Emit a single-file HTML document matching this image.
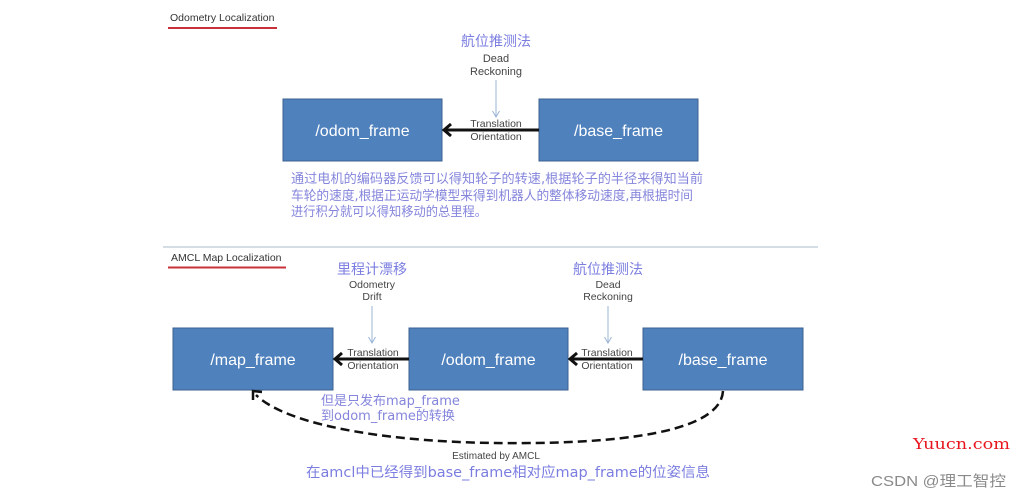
<!DOCTYPE html>
<html><head><meta charset="utf-8">
<style>
html,body{margin:0;padding:0;background:#fff;}
svg{display:block;}
.en{font-family:"Liberation Sans",Arial,sans-serif;}
.cn{font-family:"DejaVu Sans","Noto Sans CJK SC",sans-serif;}
</style></head>
<body>
<svg width="1022" height="497" viewBox="0 0 1022 497" xmlns="http://www.w3.org/2000/svg">
<rect width="1022" height="497" fill="#fff"/>

<!-- Top section -->
<text x="170" y="21" class="en" font-size="10.5" fill="#333">Odometry Localization</text>
<line x1="168" y1="28" x2="277" y2="28" stroke="#c8323a" stroke-width="2"/>

<text x="496" y="46" class="cn" font-size="14" fill="#7b7de0" text-anchor="middle">航位推测法</text>
<text x="496" y="62" class="en" font-size="11" fill="#444" text-anchor="middle">Dead</text>
<text x="496" y="75" class="en" font-size="11" fill="#444" text-anchor="middle">Reckoning</text>
<line x1="496" y1="80" x2="496" y2="117" stroke="#9ab4d6" stroke-width="1"/>
<path d="M492.5,111 L496,117 L499.5,111" fill="none" stroke="#9ab4d6" stroke-width="1"/>

<rect x="283" y="99" width="159" height="62" fill="#4f81bd" stroke="#3b6190" stroke-width="1"/>
<text x="362.5" y="136" class="en" font-size="16" fill="#fff" text-anchor="middle">/odom_frame</text>
<rect x="539" y="99" width="159" height="62" fill="#4f81bd" stroke="#3b6190" stroke-width="1"/>
<text x="618.5" y="136" class="en" font-size="16" fill="#fff" text-anchor="middle">/base_frame</text>

<line x1="539" y1="130" x2="446" y2="130" stroke="#111" stroke-width="3"/>
<path d="M451,124 L444,130 L451,136" fill="none" stroke="#111" stroke-width="3"/>
<text x="496" y="127" class="en" font-size="10.5" fill="#444" text-anchor="middle">Translation</text>
<text x="496" y="140" class="en" font-size="10.5" fill="#444" text-anchor="middle">Orientation</text>

<text class="cn" font-size="13" fill="#8585dc">
<tspan x="291" y="183" textLength="412" lengthAdjust="spacingAndGlyphs">通过电机的编码器反馈可以得知轮子的转速,根据轮子的半径来得知当前</tspan>
</text>
<text class="cn" font-size="13" fill="#8585dc">
<tspan x="291" y="200" textLength="402" lengthAdjust="spacingAndGlyphs">车轮的速度,根据正运动学模型来得到机器人的整体移动速度,再根据时间</tspan>
</text>
<text class="cn" font-size="13" fill="#8585dc">
<tspan x="291" y="216" textLength="196" lengthAdjust="spacingAndGlyphs">进行积分就可以得知移动的总里程。</tspan>
</text>

<line x1="163" y1="247" x2="818" y2="247" stroke="#c5d4dc" stroke-width="1.5"/>

<!-- Bottom section -->
<text x="171" y="261" class="en" font-size="10.5" fill="#333">AMCL Map Localization</text>
<line x1="168" y1="267.5" x2="286" y2="267.5" stroke="#c8323a" stroke-width="2"/>

<text x="372" y="274" class="cn" font-size="14" fill="#7b7de0" text-anchor="middle">里程计漂移</text>
<text x="372" y="288" class="en" font-size="10.5" fill="#444" text-anchor="middle">Odometry</text>
<text x="372" y="300" class="en" font-size="10.5" fill="#444" text-anchor="middle">Drift</text>
<line x1="372" y1="306" x2="372" y2="343" stroke="#9ab4d6" stroke-width="1"/>
<path d="M368.5,337 L372,343 L375.5,337" fill="none" stroke="#9ab4d6" stroke-width="1"/>

<text x="608" y="274" class="cn" font-size="14" fill="#7b7de0" text-anchor="middle">航位推测法</text>
<text x="608" y="288" class="en" font-size="10.5" fill="#444" text-anchor="middle">Dead</text>
<text x="608" y="300" class="en" font-size="10.5" fill="#444" text-anchor="middle">Reckoning</text>
<line x1="608" y1="306" x2="608" y2="343" stroke="#9ab4d6" stroke-width="1"/>
<path d="M604.5,337 L608,343 L611.5,337" fill="none" stroke="#9ab4d6" stroke-width="1"/>

<rect x="173" y="328" width="160" height="62" fill="#4f81bd" stroke="#3b6190" stroke-width="1"/>
<text x="253" y="365" class="en" font-size="16" fill="#fff" text-anchor="middle">/map_frame</text>
<rect x="409" y="328" width="159" height="62" fill="#4f81bd" stroke="#3b6190" stroke-width="1"/>
<text x="488.5" y="365" class="en" font-size="16" fill="#fff" text-anchor="middle">/odom_frame</text>
<rect x="643" y="328" width="160" height="62" fill="#4f81bd" stroke="#3b6190" stroke-width="1"/>
<text x="723" y="365" class="en" font-size="16" fill="#fff" text-anchor="middle">/base_frame</text>

<line x1="409" y1="359" x2="337" y2="359" stroke="#111" stroke-width="3"/>
<path d="M342,353 L335,359 L342,365" fill="none" stroke="#111" stroke-width="3"/>
<text x="373" y="356" class="en" font-size="10.5" fill="#444" text-anchor="middle">Translation</text>
<text x="373" y="369" class="en" font-size="10.5" fill="#444" text-anchor="middle">Orientation</text>

<line x1="643" y1="359" x2="572" y2="359" stroke="#111" stroke-width="3"/>
<path d="M577,353 L570,359 L577,365" fill="none" stroke="#111" stroke-width="3"/>
<text x="607" y="356" class="en" font-size="10.5" fill="#444" text-anchor="middle">Translation</text>
<text x="607" y="369" class="en" font-size="10.5" fill="#444" text-anchor="middle">Orientation</text>

<!-- dashed curve -->
<path d="M723,391 C720,440 580,444 495,443 C400,442 290,428 256,395" fill="none" stroke="#111" stroke-width="2.5" stroke-dasharray="9,5"/>
<path d="M253,400 L253,391 L262,392" fill="none" stroke="#111" stroke-width="2.5"/>

<text class="cn" font-size="13" fill="#8585dc">
<tspan x="321" y="405">但是只发布map_frame</tspan>
<tspan x="321" y="420">到odom_frame的转换</tspan>
</text>

<text x="496" y="459" class="en" font-size="10" fill="#444" text-anchor="middle">Estimated by AMCL</text>
<text x="306" y="477" class="cn" font-size="14" fill="#7b7de0" textLength="404" lengthAdjust="spacingAndGlyphs">在amcl中已经得到base_frame相对应map_frame的位姿信息</text>

<!-- watermark -->
<text x="913" y="449" font-family="'DejaVu Serif','Liberation Serif',serif" font-size="15" fill="#e8141e" textLength="97" lengthAdjust="spacingAndGlyphs">Yuucn.com</text>
<text x="871" y="486" font-family="'Liberation Sans','Noto Sans CJK SC',sans-serif" font-size="15" fill="#8a8a8a" textLength="135" lengthAdjust="spacingAndGlyphs">CSDN @理工智控</text>
</svg>
</body></html>
